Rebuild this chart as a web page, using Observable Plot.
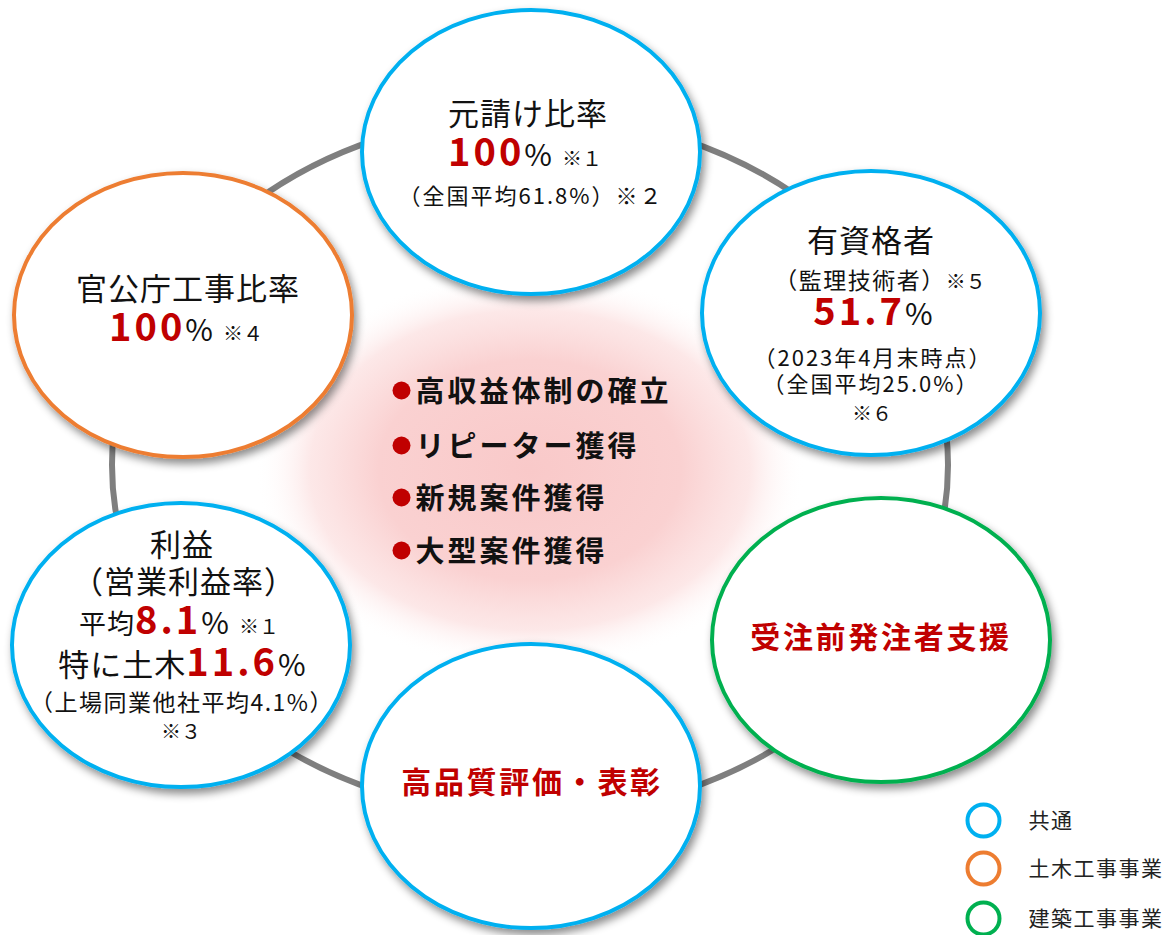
<!DOCTYPE html>
<html><head><meta charset="utf-8">
<script src="https://cdn.jsdelivr.net/npm/d3@7"></script>
<script src="https://cdn.jsdelivr.net/npm/@observablehq/plot@0.6"></script>
<style>
body{margin:0;background:#fff;} svg{display:block;}
g[aria-label="text"][font-size="29"] { letter-spacing: 3px; }
g[aria-label="text"][font-size="21"] { letter-spacing: 1.5px; }
</style>
</head><body><div id="chart"></div>
<script>
// ---- data ----
const categories = ["共通", "土木工事事業", "建築工事事業"];
const categoryColors = ["#00B0F0", "#ED7D31", "#00B050"];

const nodeNames = ["元請け比率", "有資格者", "受注前発注者支援", "高品質評価・表彰", "利益", "官公庁工事比率"];
const nodeCategory = ["共通", "共通", "建築工事事業", "共通", "共通", "土木工事事業"];

const goals = ["高収益体制の確立", "リピーター獲得", "新規案件獲得", "大型案件獲得"];

// text lines inside the circles: [text, style] segments
const lineTexts = [
  [["元請け比率", "title"]],
  [["100", "big"], ["%", "pct"], ["\u2002※１", "note"]],
  [["（全国平均61.8%）※２", "sub"]],
  [["有資格者", "title"]],
  [["（監理技術者）", "sub2"], ["※５", "note"]],
  [["51.7", "big"], ["%", "pct"]],
  [["（2023年4月末時点）", "sub"]],
  [["（全国平均25.0%）", "sub"]],
  [["※６", "note"]],
  [["官公庁工事比率", "title"]],
  [["100", "big"], ["%", "pct"], ["\u2002※４", "note"]],
  [["利益", "title"]],
  [["（営業利益率）", "title"]],
  [["平均", "mid"], ["8.1", "big"], ["%", "pct"], ["\u2002※１", "note"]],
  [["特に土木", "title"], ["11.6", "big"], ["%", "pct"]],
  [["（上場同業他社平均4.1%）", "sub2"]],
  [["※３", "note"]],
  [["高品質評価・表彰", "red"]],
  [["受注前発注者支援", "red"]]
];

// ---- layout (positions / sizes / styles) ----
const W = 1170, H = 935;
const nodeLayout = [
  {x: 531, y: 152}, {x: 871, y: 313}, {x: 881, y: 640},
  {x: 531, y: 786}, {x: 181, y: 645}, {x: 183, y: 315}
];
const nodeR = {rx: 169, ry: 142};
const ringLayout = {x: 530, y: 465, rx: 418, ry: 350};
const glowLayout = {x: 530, y: 470, rx: 275, ry: 200};
const lineLayout = [
  [528, 114], [525, 155], [531, 193],
  [871, 241], [880, 278], [873, 314], [873, 355], [871, 381], [872, 410],
  [188, 289], [186, 330],
  [182, 545], [184, 582], [179, 623], [182, 665], [182, 700], [181, 728],
  [532, 782], [881, 637]
];
const goalLayout = {bx: 401, tx: 415, y: [390, 445, 497, 550]};
const legendLayout = {cx: 983, tx: 1028, y: [820, 868, 918]};
const RED = "#C00000";
const FONT = "'Noto Sans CJK JP', 'Noto Sans CJK SC', sans-serif";
const segStyles = {
  title: {size: 31, weight: 400, fill: "#111", ls: 1},
  big: {size: 38, weight: 700, fill: RED, ls: 3},
  pct: {size: 30, weight: 400, fill: "#111", ls: 0},
  note: {size: 20, weight: 400, fill: "#111", ls: 0},
  sub: {size: 22, weight: 400, fill: "#111", ls: 2},
  sub2: {size: 23, weight: 400, fill: "#111", ls: 1.5},
  mid: {size: 27, weight: 400, fill: "#111", ls: 1},
  red: {size: 30, weight: 700, fill: RED, ls: 2.7}
};

const nodes = nodeNames.map((name, i) => ({name, cat: nodeCategory[i], ...nodeLayout[i]}));
const lines = lineTexts.map((segs, i) => ({segs, x: lineLayout[i][0], y: lineLayout[i][1]}));
const goalRows = goals.map((g, i) => ({g, y: goalLayout.y[i]}));
const legendRows = categories.map((c, i) => ({c, y: legendLayout.y[i]}));

// ---- custom render marks using Plot scales ----
function defsMark() {
  return (index, scales) => {
    const g = d3.create("svg:g");
    const defs = g.append("defs");
    const rg = defs.append("radialGradient").attr("id", "glowGrad");
    [[0, "#F9C9C9", 1], [0.55, "#FAD1D1", 1], [0.8, "#FCE2E2", 0.8], [1, "#FFFFFF", 0]]
      .forEach(([o, c, op]) => rg.append("stop").attr("offset", o).attr("stop-color", c).attr("stop-opacity", op));
    const f = defs.append("filter").attr("id", "shadow").attr("x", "-20%").attr("y", "-20%").attr("width", "140%").attr("height", "150%");
    f.append("feDropShadow").attr("dx", 3).attr("dy", 5).attr("stdDeviation", 4)
      .attr("flood-color", "#000").attr("flood-opacity", 0.45);
    const gl = glowLayout;
    g.append("ellipse")
      .attr("cx", scales.x(gl.x)).attr("cy", scales.y(gl.y))
      .attr("rx", scales.x(gl.x + gl.rx) - scales.x(gl.x))
      .attr("ry", scales.y(gl.y + gl.ry) - scales.y(gl.y))
      .attr("fill", "url(#glowGrad)");
    const r = ringLayout;
    g.append("ellipse")
      .attr("cx", scales.x(r.x)).attr("cy", scales.y(r.y))
      .attr("rx", scales.x(r.x + r.rx) - scales.x(r.x))
      .attr("ry", scales.y(r.y + r.ry) - scales.y(r.y))
      .attr("fill", "none").attr("stroke", "#7F7F7F").attr("stroke-width", 6);
    return g.node();
  };
}

function nodeMark(data) {
  return (index, scales) => {
    const g = d3.create("svg:g");
    for (const d of data) {
      g.append("ellipse")
        .attr("cx", scales.x(d.x)).attr("cy", scales.y(d.y))
        .attr("rx", scales.x(d.x + nodeR.rx) - scales.x(d.x))
        .attr("ry", scales.y(d.y + nodeR.ry) - scales.y(d.y))
        .attr("fill", "#fff")
        .attr("stroke", scales.color(d.cat))
        .attr("stroke-width", 4)
        .attr("filter", "url(#shadow)");
    }
    return g.node();
  };
}

function richTextMark(data) {
  return (index, scales) => {
    const g = d3.create("svg:g").attr("font-family", FONT);
    for (const d of data) {
      const t = g.append("text")
        .attr("x", scales.x(d.x))
        .attr("y", scales.y(d.y) + 11)
        .attr("text-anchor", "middle");
      for (const [txt, key] of d.segs) {
        const s = segStyles[key];
        t.append("tspan").text(txt)
          .attr("font-size", s.size).attr("font-weight", s.weight).attr("fill", s.fill)
          .attr("letter-spacing", s.ls);
      }
    }
    return g.node();
  };
}

const chart = Plot.plot({
  width: W, height: H, margin: 0,
  x: {domain: [0, W], range: [0, W], axis: null},
  y: {domain: [0, H], range: [0, H], axis: null},
  color: {domain: categories, range: categoryColors},
  style: {fontFamily: FONT, background: "#fff", overflow: "visible"},
  marks: [
    defsMark(),
    nodeMark(nodes),
    richTextMark(lines),
    Plot.dot(goalRows, {x: () => goalLayout.bx, y: "y", r: 9, fill: RED}),
    Plot.text(goalRows, {x: () => goalLayout.tx, y: "y", text: "g", textAnchor: "start",
      fontSize: 29, fontWeight: 700, fill: "#111", dy: 2}),
    Plot.dot(legendRows, {x: () => legendLayout.cx, y: "y", r: 16, stroke: "c", strokeWidth: 4, fill: "#fff"}),
    Plot.text(legendRows, {x: () => legendLayout.tx, y: "y", text: "c", textAnchor: "start",
      fontSize: 21, fill: "#222", dy: 1})
  ]
});
document.getElementById("chart").appendChild(chart);
</script>
</body></html>
